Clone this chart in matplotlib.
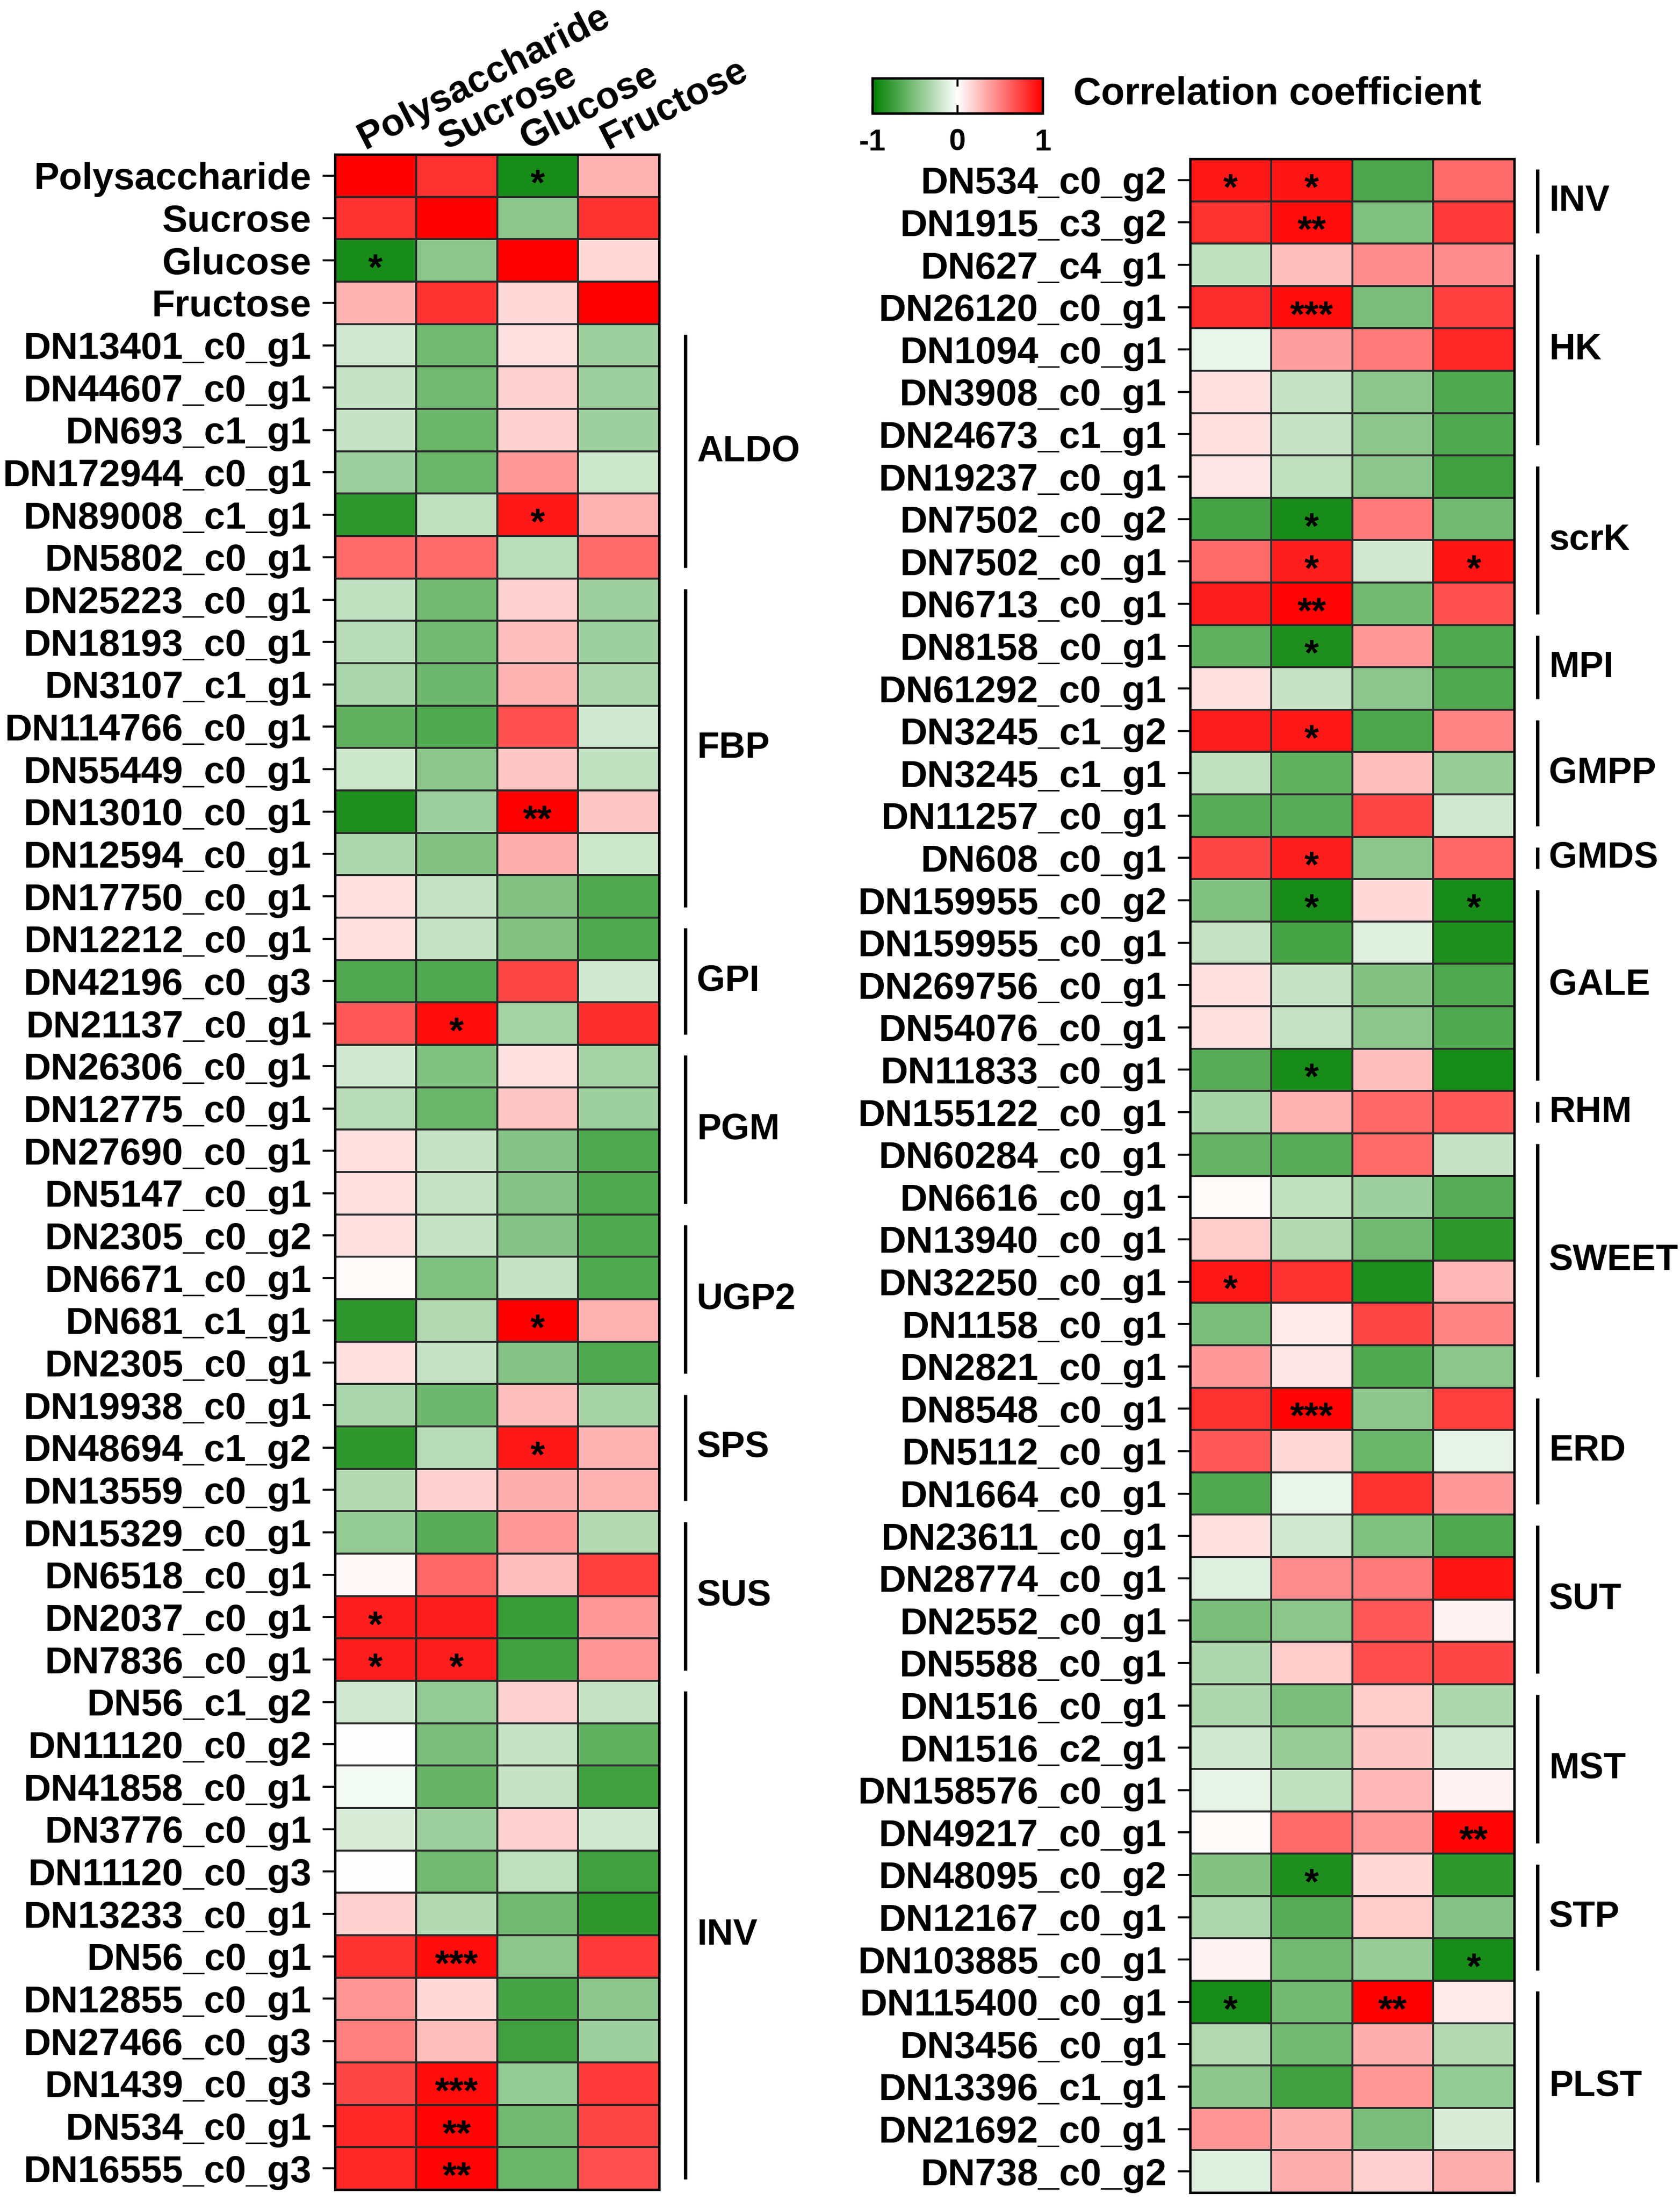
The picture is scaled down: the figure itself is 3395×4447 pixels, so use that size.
import numpy as np
import matplotlib
matplotlib.use("Agg")
import matplotlib.pyplot as plt
import matplotlib.transforms as mtransforms
from matplotlib.colors import LinearSegmentedColormap, Normalize
from matplotlib.cm import ScalarMappable

plt.rcParams['font.family'] = ['Liberation Sans', 'DejaVu Sans']
plt.rcParams['font.weight'] = 'bold'

traits = ['Polysaccharide', 'Sucrose', 'Glucose', 'Fructose']

# ---- left panel ----
left_genes = ['Polysaccharide', 'Sucrose', 'Glucose', 'Fructose',
              'DN13401_c0_g1', 'DN44607_c0_g1', 'DN693_c1_g1', 'DN172944_c0_g1',
              'DN89008_c1_g1', 'DN5802_c0_g1', 'DN25223_c0_g1', 'DN18193_c0_g1',
              'DN3107_c1_g1', 'DN114766_c0_g1', 'DN55449_c0_g1', 'DN13010_c0_g1',
              'DN12594_c0_g1', 'DN17750_c0_g1', 'DN12212_c0_g1', 'DN42196_c0_g3',
              'DN21137_c0_g1', 'DN26306_c0_g1', 'DN12775_c0_g1', 'DN27690_c0_g1',
              'DN5147_c0_g1', 'DN2305_c0_g2', 'DN6671_c0_g1', 'DN681_c1_g1',
              'DN2305_c0_g1', 'DN19938_c0_g1', 'DN48694_c1_g2', 'DN13559_c0_g1',
              'DN15329_c0_g1', 'DN6518_c0_g1', 'DN2037_c0_g1', 'DN7836_c0_g1',
              'DN56_c1_g2', 'DN11120_c0_g2', 'DN41858_c0_g1', 'DN3776_c0_g1',
              'DN11120_c0_g3', 'DN13233_c0_g1', 'DN56_c0_g1', 'DN12855_c0_g1',
              'DN27466_c0_g3', 'DN1439_c0_g3', 'DN534_c0_g1', 'DN16555_c0_g3']

left_r = [
    [1.00, 0.80, -0.90, 0.30],
    [0.80, 1.00, -0.45, 0.80],
    [-0.90, -0.45, 1.00, 0.15],
    [0.30, 0.80, 0.15, 1.00],
    [-0.18, -0.55, 0.12, -0.38],
    [-0.22, -0.55, 0.18, -0.38],
    [-0.22, -0.58, 0.18, -0.38],
    [-0.38, -0.58, 0.40, -0.20],
    [-0.82, -0.25, 0.90, 0.30],
    [0.58, 0.58, -0.27, 0.58],
    [-0.25, -0.55, 0.18, -0.38],
    [-0.28, -0.55, 0.25, -0.38],
    [-0.33, -0.57, 0.30, -0.33],
    [-0.62, -0.68, 0.68, -0.18],
    [-0.20, -0.45, 0.22, -0.25],
    [-0.88, -0.38, 1.00, 0.22],
    [-0.32, -0.48, 0.32, -0.20],
    [0.12, -0.22, -0.48, -0.68],
    [0.12, -0.22, -0.48, -0.68],
    [-0.68, -0.68, 0.72, -0.18],
    [0.65, 0.95, -0.35, 0.82],
    [-0.18, -0.50, 0.12, -0.35],
    [-0.28, -0.58, 0.22, -0.38],
    [0.12, -0.22, -0.47, -0.68],
    [0.12, -0.22, -0.47, -0.68],
    [0.12, -0.22, -0.47, -0.68],
    [0.02, -0.50, -0.22, -0.68],
    [-0.82, -0.30, 1.00, 0.30],
    [0.12, -0.22, -0.47, -0.68],
    [-0.33, -0.57, 0.25, -0.35],
    [-0.82, -0.28, 0.90, 0.30],
    [-0.30, 0.18, 0.32, 0.30],
    [-0.42, -0.65, 0.40, -0.30],
    [0.03, 0.60, 0.25, 0.75],
    [0.88, 0.88, -0.78, 0.40],
    [0.88, 0.88, -0.75, 0.42],
    [-0.18, -0.42, 0.18, -0.22],
    [0.00, -0.52, -0.22, -0.62],
    [-0.04, -0.60, -0.22, -0.75],
    [-0.15, -0.38, 0.18, -0.18],
    [0.00, -0.55, -0.25, -0.75],
    [0.18, -0.30, -0.55, -0.82],
    [0.80, 0.95, -0.45, 0.78],
    [0.42, 0.15, -0.72, -0.45],
    [0.50, 0.25, -0.75, -0.38],
    [0.72, 0.95, -0.42, 0.78],
    [0.85, 0.98, -0.55, 0.72],
    [0.85, 0.98, -0.58, 0.68],
]

# (row, column, mark)
left_stars = [(0, 2, '*'), (2, 0, '*'), (8, 2, '*'), (15, 2, '**'), (20, 1, '*'),
              (27, 2, '*'), (30, 2, '*'), (34, 0, '*'), (35, 0, '*'), (35, 1, '*'),
              (42, 1, '***'), (45, 1, '***'), (46, 1, '**'), (47, 1, '**')]

# (name, first row, last row)
left_groups = [('ALDO', 4, 9), ('FBP', 10, 17), ('GPI', 18, 20), ('PGM', 21, 24),
               ('UGP2', 25, 28), ('SPS', 29, 31), ('SUS', 32, 35), ('INV', 36, 47)]

# ---- right panel ----
right_genes = ['DN534_c0_g2', 'DN1915_c3_g2', 'DN627_c4_g1', 'DN26120_c0_g1',
               'DN1094_c0_g1', 'DN3908_c0_g1', 'DN24673_c1_g1', 'DN19237_c0_g1',
               'DN7502_c0_g2', 'DN7502_c0_g1', 'DN6713_c0_g1', 'DN8158_c0_g1',
               'DN61292_c0_g1', 'DN3245_c1_g2', 'DN3245_c1_g1', 'DN11257_c0_g1',
               'DN608_c0_g1', 'DN159955_c0_g2', 'DN159955_c0_g1', 'DN269756_c0_g1',
               'DN54076_c0_g1', 'DN11833_c0_g1', 'DN155122_c0_g1', 'DN60284_c0_g1',
               'DN6616_c0_g1', 'DN13940_c0_g1', 'DN32250_c0_g1', 'DN1158_c0_g1',
               'DN2821_c0_g1', 'DN8548_c0_g1', 'DN5112_c0_g1', 'DN1664_c0_g1',
               'DN23611_c0_g1', 'DN28774_c0_g1', 'DN2552_c0_g1', 'DN5588_c0_g1',
               'DN1516_c0_g1', 'DN1516_c2_g1', 'DN158576_c0_g1', 'DN49217_c0_g1',
               'DN48095_c0_g2', 'DN12167_c0_g1', 'DN103885_c0_g1', 'DN115400_c0_g1',
               'DN3456_c0_g1', 'DN13396_c1_g1', 'DN21692_c0_g1', 'DN738_c0_g2']

right_r = [
    [0.90, 0.92, -0.70, 0.58],
    [0.80, 0.95, -0.50, 0.78],
    [-0.25, 0.25, 0.45, 0.45],
    [0.82, 0.95, -0.52, 0.75],
    [-0.08, 0.38, 0.52, 0.85],
    [0.12, -0.22, -0.45, -0.68],
    [0.12, -0.22, -0.45, -0.68],
    [0.10, -0.25, -0.45, -0.75],
    [-0.72, -0.90, 0.52, -0.55],
    [0.58, 0.88, -0.18, 0.92],
    [0.88, 0.98, -0.55, 0.68],
    [-0.62, -0.88, 0.40, -0.68],
    [0.12, -0.22, -0.45, -0.68],
    [0.88, 0.90, -0.70, 0.48],
    [-0.25, -0.62, 0.25, -0.40],
    [-0.65, -0.65, 0.72, -0.18],
    [0.72, 0.88, -0.45, 0.60],
    [-0.50, -0.90, 0.15, -0.90],
    [-0.22, -0.72, -0.12, -0.88],
    [0.12, -0.22, -0.48, -0.68],
    [0.12, -0.22, -0.45, -0.68],
    [-0.65, -0.90, 0.25, -0.90],
    [-0.35, 0.30, 0.60, 0.65],
    [-0.60, -0.65, 0.58, -0.22],
    [0.02, -0.25, -0.38, -0.65],
    [0.20, -0.30, -0.55, -0.82],
    [0.90, 0.80, -0.88, 0.28],
    [-0.52, 0.08, 0.72, 0.48],
    [0.40, 0.10, -0.68, -0.45],
    [0.80, 0.98, -0.45, 0.75],
    [0.65, 0.15, -0.58, -0.10],
    [-0.68, -0.08, 0.80, 0.40],
    [0.12, -0.18, -0.50, -0.68],
    [-0.12, 0.45, 0.52, 0.92],
    [-0.52, -0.45, 0.65, 0.05],
    [-0.32, 0.20, 0.70, 0.72],
    [-0.32, -0.52, 0.20, -0.32],
    [-0.18, -0.40, 0.22, -0.18],
    [-0.10, -0.25, 0.28, 0.05],
    [0.02, 0.58, 0.40, 0.98],
    [-0.48, -0.88, 0.15, -0.82],
    [-0.32, -0.65, 0.20, -0.47],
    [0.05, -0.55, -0.40, -0.90],
    [-0.90, -0.55, 1.00, 0.08],
    [-0.30, -0.55, 0.32, -0.30],
    [-0.45, -0.75, 0.40, -0.42],
    [0.42, 0.32, -0.52, -0.15],
    [-0.12, 0.32, 0.18, 0.32],
]

right_stars = [(0, 0, '*'), (0, 1, '*'), (1, 1, '**'), (3, 1, '***'), (8, 1, '*'),
               (9, 1, '*'), (9, 3, '*'), (10, 1, '**'), (11, 1, '*'), (13, 1, '*'),
               (16, 1, '*'), (17, 1, '*'), (17, 3, '*'), (21, 1, '*'), (26, 0, '*'),
               (29, 1, '***'), (39, 3, '**'), (40, 1, '*'), (42, 3, '*'), (43, 0, '*'),
               (43, 2, '**')]

right_groups = [('INV', 0, 1), ('HK', 2, 6), ('scrK', 7, 10), ('MPI', 11, 12),
                ('GMPP', 13, 15), ('GMDS', 16, 16), ('GALE', 17, 21), ('RHM', 22, 22),
                ('SWEET', 23, 28), ('ERD', 29, 31), ('SUT', 32, 35), ('MST', 36, 39),
                ('STP', 40, 42), ('PLST', 43, 47)]

cmap = LinearSegmentedColormap.from_list('gwr', ['#008000', '#ffffff', '#ff0000'])
norm = Normalize(vmin=-1, vmax=1)

W, H = 3395, 4447
fig = plt.figure(figsize=(W / 100, H / 100), dpi=100)


def px_rect(x0, y0, x1, y1):
    # pixel box (top-left origin) -> figure fraction
    return [x0 / W, 1 - y1 / H, (x1 - x0) / W, (y1 - y0) / H]


def heat_panel(rect, genes, vals, stars, groups, bar_x, lab_x, col_labels=False):
    ax = fig.add_axes(rect)
    data = np.array(vals)
    ax.pcolormesh(data, cmap=cmap, norm=norm, edgecolors='#2a2a2a', linewidth=1.5)
    ax.set_xlim(0, data.shape[1])
    ax.set_ylim(len(genes), 0)
    ax.set_xticks([])
    ax.set_yticks(np.arange(len(genes)) + 0.5)
    ax.set_yticklabels(genes, fontsize=55, fontweight='bold')
    ax.tick_params(axis='y', length=18, width=3, pad=16)
    for s in ax.spines.values():
        s.set_linewidth(3.5)

    for r, c, mark in stars:
        ax.text(c + 0.5, r + 0.72, mark, ha='center', va='center',
                fontsize=54, fontweight='bold')

    trans = mtransforms.blended_transform_factory(ax.transAxes, ax.transData)
    for name, a, b in groups:
        ax.plot([bar_x, bar_x], [a + 0.25, b + 0.75], transform=trans, color='black',
                lw=5, clip_on=False, solid_capstyle='butt')
        ax.text(lab_x, (a + b + 1) / 2, name, transform=trans, ha='left', va='center',
                fontsize=53, fontweight='bold')

    if col_labels:
        for j, t in enumerate(traits):
            ax.text(j + 0.37, -0.12, t, rotation=27, rotation_mode='anchor',
                    ha='left', va='baseline', fontsize=55, fontweight='bold')
    return ax


heat_panel(px_rect(677, 312, 1332, 4424), left_genes, left_r, left_stars, left_groups,
           1.081, 1.116, col_labels=True)
heat_panel(px_rect(2405, 321, 3060, 4430), right_genes, right_r, right_stars, right_groups,
           1.072, 1.107)

# colour bar
cax = fig.add_axes(px_rect(1763, 158, 2107, 229))
cb = fig.colorbar(ScalarMappable(norm=norm, cmap=cmap), cax=cax, orientation='horizontal',
                  ticks=[-1, 0, 1])
cb.outline.set_linewidth(3.5)
cax.tick_params(direction='in', top=True, bottom=True, length=12, width=3,
                labelsize=44, pad=22)
cax.set_xticklabels(['-1', '0', '1'], fontweight='bold')
fig.text(2169 / W, 1 - 190 / H, 'Correlation coefficient', ha='left', va='center',
         fontsize=56, fontweight='bold')

fig.savefig('out.png', dpi=100)
